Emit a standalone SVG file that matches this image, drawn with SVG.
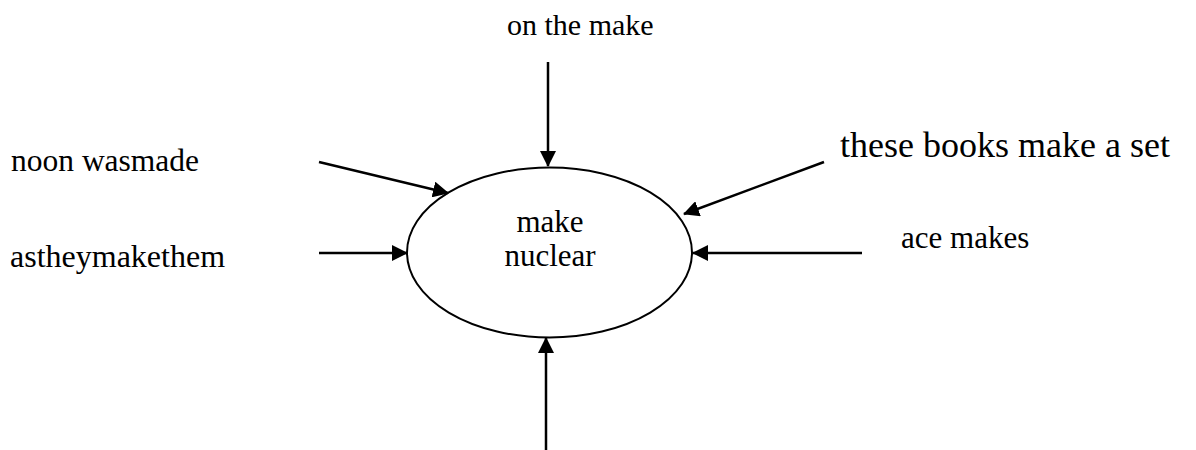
<svg xmlns="http://www.w3.org/2000/svg" width="1196" height="450" viewBox="0 0 1196 450">
<defs>
<marker id="ah" markerUnits="userSpaceOnUse" markerWidth="16" markerHeight="16" viewBox="0 0 16 16" refX="15" refY="8" orient="auto">
<path d="M0,0 L16,8 L0,16 Z" fill="#000"/>
</marker>
<style>
text{font-family:"Liberation Serif","Times New Roman",serif;fill:#000}
.lbl{font-size:31px}
.edge{stroke:#000;stroke-width:2.5;fill:none;marker-end:url(#ah)}
</style>
</defs>
<rect width="1196" height="450" fill="#fff"/>
<g id="center">
<ellipse cx="549.5" cy="252.5" rx="142.5" ry="85" fill="#fff" stroke="#000" stroke-width="2"/>
<text x="550" y="232" text-anchor="middle" class="lbl">make</text>
<text x="550" y="266" text-anchor="middle" class="lbl">nuclear</text>
</g>
<g id="n-onthemake"><text x="507" y="35" style="font-size:30px">on the make</text></g>
<g id="n-books"><text x="840" y="157" style="font-size:36px">these books make a set</text></g>
<g id="n-noon"><text x="11" y="171" style="font-size:31.5px">noon wasmade</text></g>
<g id="n-asthey"><text x="10" y="267" style="font-size:32px">astheymakethem</text></g>
<g id="n-ace"><text x="901" y="248" class="lbl">ace makes</text></g>
<g id="connectors">
<line class="edge" x1="548" y1="62" x2="548" y2="166"/>
<line class="edge" x1="546" y1="450" x2="546" y2="338"/>
<line class="edge" x1="319" y1="162" x2="448" y2="193"/>
<line class="edge" x1="319" y1="253" x2="407" y2="253"/>
<line class="edge" x1="824" y1="162" x2="684" y2="214"/>
<line class="edge" x1="862" y1="253" x2="693" y2="253"/>
</g>
</svg>
